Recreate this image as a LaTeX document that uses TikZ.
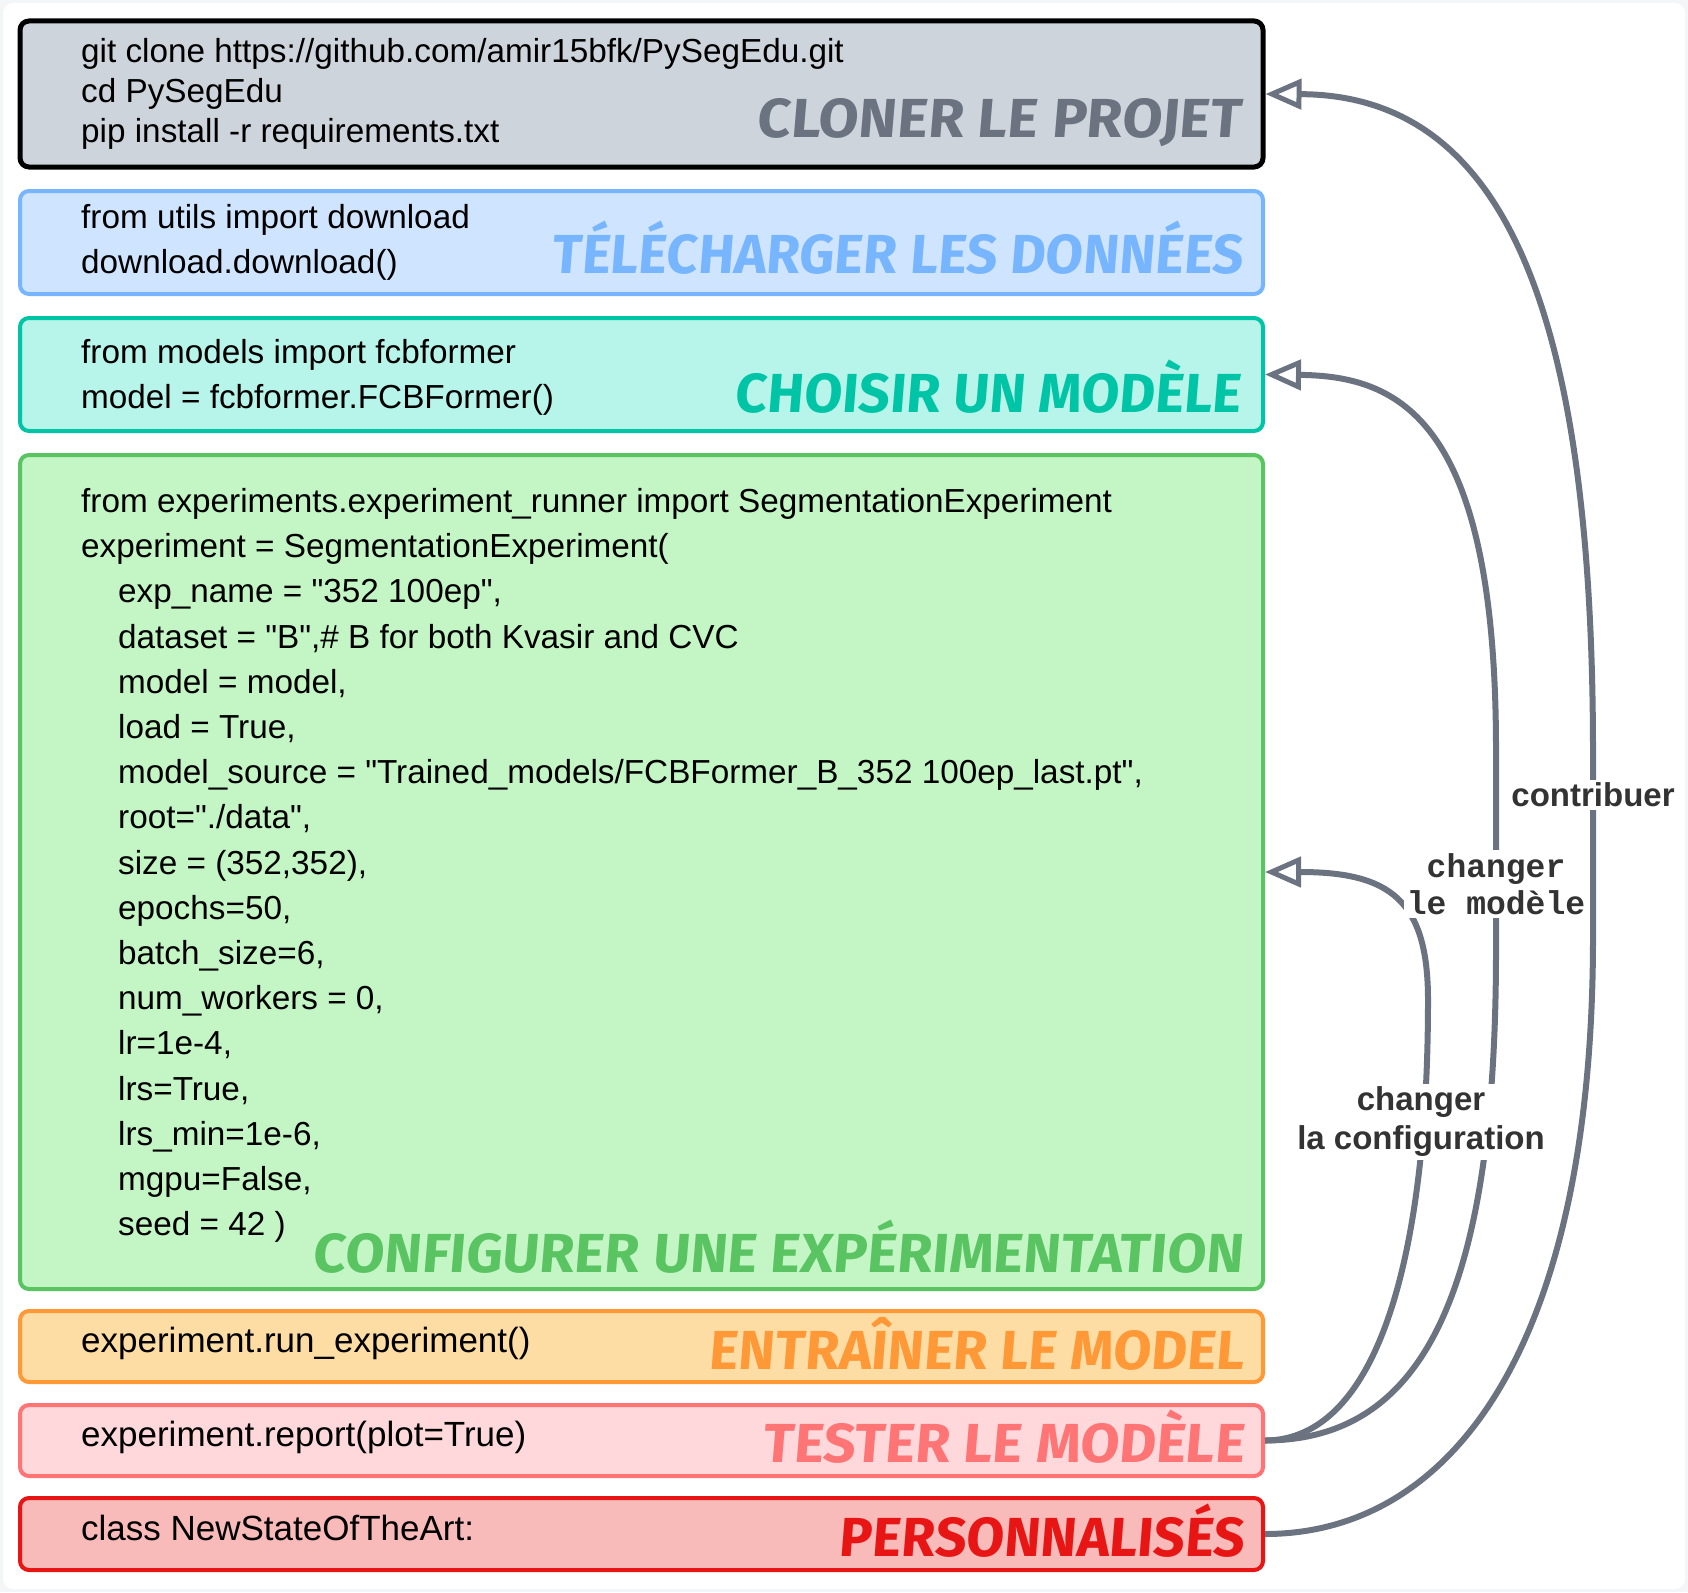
\documentclass[tikz,border=0pt]{standalone}
\usepackage{fontspec}
\usepackage{graphicx}
\setmainfont{Liberation Sans}
\newfontfamily\codefont{Liberation Sans}
\newfontfamily\lblfont{Liberation Sans}
\newfontfamily\lblmono{Liberation Mono}
\newfontfamily\titlefont{Fira Sans}[FakeSlant=0.08]
\usetikzlibrary{arrows.meta}
\definecolor{bgout}{HTML}{F4F5F7}
\definecolor{aGray}{HTML}{6B7280}
\definecolor{lblc}{HTML}{333333}
\definecolor{f1}{HTML}{CED4DB}\definecolor{d1}{HTML}{000000}\definecolor{h1c}{HTML}{6B7280}
\definecolor{f2}{HTML}{CFE5FF}\definecolor{d2}{HTML}{77B5FE}\definecolor{h2c}{HTML}{77B5FE}
\definecolor{f3}{HTML}{B7F4EA}\definecolor{d3}{HTML}{00C4A6}\definecolor{h3c}{HTML}{00C4A6}
\definecolor{f4}{HTML}{C3F6C4}\definecolor{d4}{HTML}{5AC463}\definecolor{h4c}{HTML}{5AC463}
\definecolor{f5}{HTML}{FEDDA5}\definecolor{d5}{HTML}{FF9837}\definecolor{h5c}{HTML}{FF9837}
\definecolor{f6}{HTML}{FED8DA}\definecolor{d6}{HTML}{FF7474}\definecolor{h6c}{HTML}{FF7474}
\definecolor{f7}{HTML}{F9BABA}\definecolor{d7}{HTML}{E81515}\definecolor{h7c}{HTML}{E81515}
\newlength\ttlw
\newcommand\ttlfit[2]{%
  \settowidth\ttlw{\titlefont\bfseries\fontsize{55}{60}\selectfont #2}%
  \pgfmathsetmacro\ttlsx{#1/\ttlw}%
  \scalebox{\ttlsx}[1]{\titlefont\bfseries\fontsize{55}{60}\selectfont #2}}
\newcommand\ind{\hspace*{37pt}}
\tikzset{
  box/.style={rectangle, rounded corners=9pt, line width=4pt, inner sep=0pt},
  code/.style={inner sep=0pt, anchor=base west, font=\codefont\fontsize{33.3}{40}\selectfont, text=black},
  codebig/.style={code, font=\codefont\fontsize{35}{40}\selectfont},
  ttl/.style={inner sep=0pt, anchor=base east},
  conn/.style={draw=aGray, line width=6pt, -{Triangle[open, length=36pt, width=30pt, line width=5pt]}},
  lbl/.style={fill=white, text=lblc, align=center, inner sep=3pt, font=\lblfont\bfseries\fontsize{33}{39}\selectfont},
  lblm/.style={fill=white, text=lblc, align=center, inner sep=3pt, font=\lblmono\bfseries\fontsize{33}{37}\selectfont}
}
\begin{document}
\begin{tikzpicture}[x=1pt,y=-1pt]
\useasboundingbox (0,0) rectangle (1688,1592);
\fill[bgout] (0,0) rectangle (1688,1592);
\fill[white, rounded corners=10pt] (3,3) rectangle (1685,1589);

\node[box, fill=f1, draw=d1, line width=5pt, minimum width=1243pt, minimum height=146pt] (b1) at (641.5,94) {};
\node[box, fill=f2, draw=d2, minimum width=1243pt, minimum height=103pt] (b2) at (641.5,242.5) {};
\node[box, fill=f3, draw=d3, minimum width=1243pt, minimum height=113pt] (b3) at (641.5,374.5) {};
\node[box, fill=f4, draw=d4, minimum width=1243pt, minimum height=834pt] (b4) at (641.5,872) {};
\node[box, fill=f5, draw=d5, minimum width=1243pt, minimum height=71pt] (b5) at (641.5,1346.5) {};
\node[box, fill=f6, draw=d6, minimum width=1243pt, minimum height=71pt] (b6) at (641.5,1440.5) {};
\node[box, fill=f7, draw=d7, minimum width=1243pt, minimum height=72pt] (b7) at (641.5,1534) {};

\node[code] (c1) at (81,62.5) {\vtop{\baselineskip=40pt
  \hbox{git clone https://github.com/amir15bfk/PySegEdu.git}
  \hbox{cd PySegEdu}
  \hbox{pip install -r requirements.txt}}};
\node[code] (c2) at (81,228) {\vtop{\baselineskip=45pt
  \hbox{from utils import download}
  \hbox{download.download()}}};
\node[code] (c3) at (81,363.5) {\vtop{\baselineskip=45pt
  \hbox{from models import fcbformer}
  \hbox{model = fcbformer.FCBFormer()}}};
\node[code] (c4) at (81,512.5) {\vtop{\baselineskip=45.2pt
  \hbox{from experiments.experiment\_runner import SegmentationExperiment}
  \hbox{experiment = SegmentationExperiment(}
  \hbox{\ind exp\_name = "352 100ep",}
  \hbox{\ind dataset = "B",\# B for both Kvasir and CVC}
  \hbox{\ind model = model,}
  \hbox{\ind load = True,}
  \hbox{\ind model\_source = "Trained\_models/FCBFormer\_B\_352 100ep\_last.pt",}
  \hbox{\ind root="./data",}
  \hbox{\ind size = (352,352),}
  \hbox{\ind epochs=50,}
  \hbox{\ind batch\_size=6,}
  \hbox{\ind num\_workers = 0,}
  \hbox{\ind lr=1e-4,}
  \hbox{\ind lrs=True,}
  \hbox{\ind lrs\_min=1e-6,}
  \hbox{\ind mgpu=False,}
  \hbox{\ind seed = 42 )}}};
\node[codebig] (c5) at (81,1352.5) {experiment.run\_experiment()};
\node[codebig] (c6) at (81,1446.5) {experiment.report(plot=True)};
\node[codebig] (c7) at (81,1540) {class NewStateOfTheArt:};

\node[ttl, text=h1c] (h1) at (1241,137) {\ttlfit{484pt}{CLONER LE PROJET}};
\node[ttl, text=h2c] (h2) at (1243,273) {\ttlfit{691pt}{TÉLÉCHARGER LES DONNÉES}};
\node[ttl, text=h3c] (h3) at (1241,412) {\ttlfit{506pt}{CHOISIR UN MODÈLE}};
\node[ttl, text=h4c] (h4) at (1243,1272) {\ttlfit{930pt}{CONFIGURER UNE EXPÉRIMENTATION}};
\node[ttl, text=h5c] (h5) at (1244,1369) {\ttlfit{535pt}{ENTRAÎNER LE MODEL}};
\node[ttl, text=h6c] (h6) at (1244,1462) {\ttlfit{481pt}{TESTER LE MODÈLE}};
\node[ttl, text=h7c] (h7) at (1244,1556) {\ttlfit{405pt}{PERSONNALISÉS}};

% connectors
\draw[conn] (b7.east) .. controls (1450,1534) and (1593,1350) .. (1593,937)
  -- (1593,754) .. controls (1593,300) and (1500,95) .. (b1.east);
\draw[conn] (b6.east) .. controls (1420,1440) and (1496,1300) .. (1496,950)
  -- (1496,750) .. controls (1496,420) and (1400,376) .. (b3.east);
\draw[conn] (b6.east) .. controls (1380,1440) and (1428,1250) .. (1428,1000)
  .. controls (1428,900) and (1390,872) .. (b4.east);

\node[lbl] (l1) at (1593,795) {contribuer};
\node[lblm] (l2) at (1496,884) {changer\\le modèle};
\node[lbl] (l3) at (1421,1122) {changer\\la configuration};
\end{tikzpicture}
\end{document}
